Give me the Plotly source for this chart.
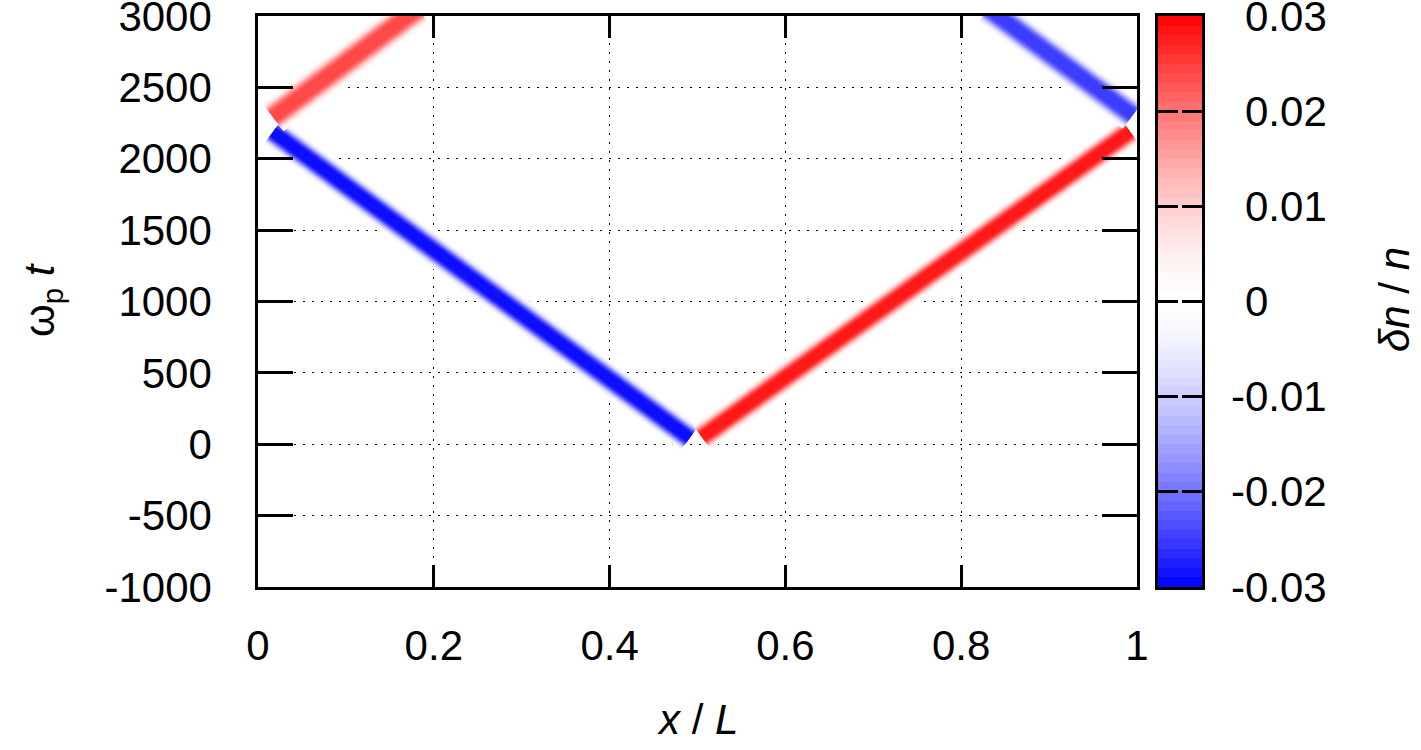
import plotly.graph_objects as go
import numpy as np

# ---- data ----
# wave-packet trajectories: x/L and omega_p t of the packet centre, and the peak delta n / n
band_names = ["left-moving", "right-moving", "reflected at x=0", "reflected at x=L"]
band_x = [[0.491, 0.017], [0.505, 0.992], [0.017, 0.182], [0.995, 0.831]]
band_t = [[44, 2187], [51, 2190], [2293, 3050], [2306, 3050]]
band_amp = [-0.029, 0.028, 0.024, -0.025]
band_width_px = [31, 31, 36, 34]

x_ticks = [0, 0.2, 0.4, 0.6, 0.8, 1]
x_ticklabels = ["0", "0.2", "0.4", "0.6", "0.8", "1"]
y_ticks = [-1000, -500, 0, 500, 1000, 1500, 2000, 2500, 3000]
cb_ticks = [-0.03, -0.02, -0.01, 0, 0.01, 0.02, 0.03]
cb_ticklabels = ["-0.03", "-0.02", "-0.01", "0", "0.01", "0.02", "0.03"]

ZMAX = 0.03
GAMMA = 1.5


def amp_color(v):
    s = min(abs(v) / ZMAX, 1.0)
    g = int(round(255 * (1 - s ** GAMMA)))
    return f"rgb(255,{g},{g})" if v > 0 else f"rgb({g},{g},255)"


# colour scale (blue - white - red)
cs_vals = np.linspace(-ZMAX, ZMAX, 25)
colorscale = [[(v + ZMAX) / (2 * ZMAX), amp_color(v) if abs(v) > 1e-12 else "rgb(255,255,255)"] for v in cs_vals]

FONT = "Liberation Sans, Arial, sans-serif"
FS = 42

W, H = 1421, 750
ml, mr, mt, mb = 258, 219, 16, 163
pw = W - ml - mr
ph = H - mt - mb
main_right = 1137
cb_left, cb_right = 1158, 1202


def px_x(px):
    return (px - ml) / pw


def px_y(py):
    return (H - mb - py) / ph


fig = go.Figure()

# soft-edged packet bands: stacked lines, wide+pale to narrow+saturated
layers = [(1.0, 0.06), (0.9, 0.14), (0.8, 0.28), (0.7, 0.46), (0.6, 0.66), (0.5, 0.83), (0.4, 0.94), (0.3, 1.0)]
for bx, bt, ba, bw in zip(band_x, band_t, band_amp, band_width_px):
    for wf, af in layers:
        fig.add_trace(go.Scatter(
            x=bx, y=bt, mode="lines",
            line=dict(color=amp_color(ba * af), width=bw * wf),
            hoverinfo="skip", showlegend=False, xaxis="x", yaxis="y"))

# colour bar drawn as a one-column heatmap
n_cb = 60
cb_centres = -ZMAX + (np.arange(n_cb) + 0.5) * (2 * ZMAX / n_cb)
fig.add_trace(go.Heatmap(
    z=[[v] for v in cb_centres], x0=0.5, dx=1, y0=cb_centres[0], dy=2 * ZMAX / n_cb,
    colorscale=colorscale, zmin=-ZMAX, zmax=ZMAX, showscale=False,
    hoverinfo="skip", xaxis="x2", yaxis="y2"))

axis_common = dict(showline=True, linecolor="black", linewidth=2.5, mirror="ticks",
                   ticks="inside", tickcolor="black", tickwidth=2.5,
                   zeroline=False, layer="above traces", automargin=False,
                   ticklabeloverflow="allow",
                   tickfont=dict(family=FONT, size=FS, color="black"))

fig.update_layout(
    template="none",
    width=W, height=H,
    margin=dict(l=ml, r=mr, t=mt, b=mb, pad=0, autoexpand=False),
    paper_bgcolor="white", plot_bgcolor="white",
    showlegend=False,
    xaxis=dict(domain=[0, (main_right - ml) / pw], range=[0, 1],
               tickvals=x_ticks, ticktext=x_ticklabels, ticklen=22,
               showgrid=True, gridcolor="black", gridwidth=1.3, griddash="2px,7px",
               ticklabelstandoff=20, anchor="y", **axis_common),
    yaxis=dict(domain=[0, 1], range=[-1000, 3000], tickvals=y_ticks,
               ticktext=[str(v) for v in y_ticks], ticklen=35,
               showgrid=True, gridcolor="black", gridwidth=1.3, griddash="2px,7px",
               ticklabelstandoff=35, anchor="x", **axis_common),
    xaxis2=dict(domain=[px_x(cb_left), px_x(cb_right)], range=[0, 1],
                showline=True, linecolor="black", linewidth=2.5, mirror=True,
                showticklabels=False, ticks="", showgrid=False, zeroline=False,
                anchor="y2", layer="above traces", automargin=False),
    yaxis2=dict(domain=[0, 1], range=[-ZMAX, ZMAX], side="right", anchor="x2",
                tickvals=cb_ticks, ticktext=cb_ticklabels, ticklen=20,
                showticklabels=False, showgrid=False, **axis_common),
)

# colour-bar labels: digits aligned, minus sign hanging to the left
for v, lab in zip(cb_ticks, cb_ticklabels):
    fig.add_annotation(text=lab, xref="paper", yref="y2",
                       x=px_x(1243 - (14 if v < 0 else 0)), y=v, showarrow=False,
                       xanchor="left", yanchor="middle",
                       font=dict(family=FONT, size=FS, color="black"))

fig.add_annotation(text="<i>x</i> / <i>L</i>", xref="paper", yref="paper",
                   x=px_x(697), y=px_y(719), showarrow=False,
                   xanchor="center", yanchor="middle",
                   font=dict(family=FONT, size=FS, color="black"))
fig.add_annotation(text="ω<sub>p</sub> <i>t</i>", xref="paper", yref="paper",
                   x=px_x(42), y=px_y(300), showarrow=False, textangle=-90,
                   xanchor="center", yanchor="middle",
                   font=dict(family=FONT, size=FS, color="black"))
fig.add_annotation(text="<i>δn</i> / <i>n</i>", xref="paper", yref="paper",
                   x=px_x(1394), y=px_y(300), showarrow=False, textangle=-90,
                   xanchor="center", yanchor="middle",
                   font=dict(family=FONT, size=FS, color="black"))

fig.write_html("out.html", config={"displayModeBar": False},
               post_script="document.body.style.margin='0';document.body.style.overflow='hidden';")
